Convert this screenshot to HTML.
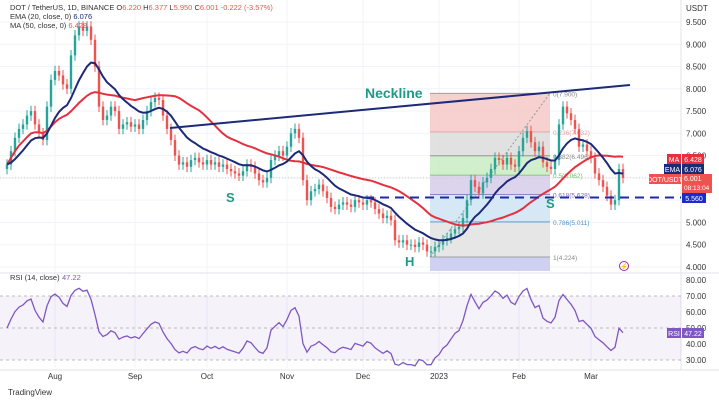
<!DOCTYPE html>
<html><head><meta charset="utf-8">
<style>
body{margin:0;background:#fff;font-family:"Liberation Sans",sans-serif;}
svg{display:block}
</style></head>
<body>
<svg id="c" width="719" height="400" viewBox="0 0 719 400" font-family="Liberation Sans, sans-serif"></svg>
<script>
const closes=[6.3,6.6,6.9,7.1,7.2,7.4,7.5,7.2,7.0,6.85,7.6,8.2,8.4,8.3,8.1,8.0,8.75,9.2,9.4,9.3,9.4,9.1,8.5,7.6,7.3,7.4,7.6,7.5,7.1,7.2,7.25,7.15,7.2,7.1,7.3,7.5,7.7,7.8,7.75,7.4,7.1,6.85,6.5,6.3,6.35,6.25,6.4,6.45,6.35,6.3,6.4,6.3,6.35,6.25,6.3,6.2,6.15,6.1,6.05,6.15,6.3,6.25,6.1,5.95,5.9,6.0,6.4,6.5,6.6,6.5,6.7,7.0,7.1,6.9,5.95,5.5,5.7,5.75,5.85,5.7,5.55,5.35,5.3,5.4,5.45,5.4,5.35,5.5,5.45,5.4,5.5,5.45,5.3,5.2,5.1,5.15,5.05,4.6,4.55,4.6,4.5,4.5,4.45,4.55,4.5,4.35,4.35,4.45,4.5,4.6,4.65,4.75,4.85,4.9,5.1,5.5,5.95,5.8,5.65,5.9,6.0,6.2,6.45,6.4,6.3,6.45,6.3,6.25,6.6,6.9,7.05,6.8,6.6,6.7,6.35,6.25,6.2,6.4,7.2,7.6,7.45,7.3,7.1,6.7,6.75,6.6,6.45,6.1,5.95,5.8,5.6,5.4,5.5,6.2,6.0];
const priceTicks=[4,4.5,5,5.5,6,6.5,7,7.5,8,8.5,9,9.5];
const rsiTicks=[30,40,50,60,70,80];
const months=["Aug","Sep","Oct","Nov","Dec","2023","Feb","Mar"];
const monthIdx=[12,32,50,70,89,108,128,146];
const fibLevels=[0,0.236,0.382,0.5,0.618,0.786,1];
const fibPrices=[7.9,7.032,6.496,6.062,5.628,5.011,4.224];
const NS="http://www.w3.org/2000/svg";
const svg=document.getElementById('c');
const px=i=>7+i*4;
const py=p=>267-(p-4)*44.55;
const ry=v=>360-(v-30)*1.6;
function el(t,a,txt,parent){const e=document.createElementNS(NS,t);for(const k in a)e.setAttribute(k,a[k]);if(txt!==undefined)e.textContent=txt;(parent||svg).appendChild(e);return e;}
priceTicks.forEach(p=>{const g=el('line',{x1:0,x2:681,y1:py(p),y2:py(p),stroke:'#f0f3fa'});


const t=el('text',{x:686,y:py(p)+3,'font-size':8,fill:'#333'},p.toFixed(3));

});
monthIdx.forEach((m,k)=>{const g=el('line',{x1:px(m),x2:px(m),y1:0,y2:368,stroke:'#f0f3fa'});


const t=el('text',{x:px(m),y:379,'font-size':8,fill:'#333','text-anchor':'middle'},months[k]);

});
el('text',{x:686,y:11,'font-size':8,fill:'#333'},'USDT');
el('line',{x1:681,x2:681,y1:0,y2:370,stroke:'#e0e3eb'});
el('line',{x1:0,x2:719,y1:273,y2:273,stroke:'#e0e3eb'});
el('line',{x1:0,x2:719,y1:370,y2:370,stroke:'#e0e3eb'});
const fx1=430,fx2=550;
const fibFill=['#f6c8c8','#dcdcdc','#c9ecc4','#d6cdea','#cfe4f5','#e2e2e2'];
for(let k=0;k<6;k++){const r=el('rect',{x:fx1,y:py(fibPrices[k]),width:fx2-fx1,height:py(fibPrices[k+1])-py(fibPrices[k]),fill:fibFill[k],opacity:0.85});

}
const r2=el('rect',{x:fx1,y:py(fibPrices[6]),width:fx2-fx1,height:271-py(fibPrices[6]),fill:'#cfd0f2'});


const fibCol=['#888','#e4a0a0','#888','#6bbf5f','#7e63b8','#4a90c8','#888'];
fibLevels.forEach((l,k)=>{el('line',{x1:fx1,x2:fx2,y1:py(fibPrices[k]),y2:py(fibPrices[k]),stroke:fibCol[k],'stroke-width':0.8});
const t=el('text',{x:553,y:py(fibPrices[k])+3,'font-size':6.5,fill:fibCol[k]},l+'('+fibPrices[k].toFixed(3)+')');

});
el('line',{x1:430,y1:py(4.224),x2:550,y2:py(7.9),stroke:'#999','stroke-dasharray':'2,2'});
el('line',{x1:0,x2:681,y1:py(6.001),y2:py(6.001),stroke:'#ccc','stroke-dasharray':'1,2'});
closes.forEach((c,i)=>{const o=i?closes[i-1]:c-0.1;const up=c>=o;const col=up?'#26a69a':'#ef5350';
const hi=Math.max(o,c)+0.12,lo=Math.min(o,c)-0.12;
const w=el('line',{x1:px(i),x2:px(i),y1:py(hi),y2:py(lo),stroke:col,'stroke-width':1});


const b=el('rect',{x:px(i)-1.2,y:py(Math.max(o,c)),width:2.4,height:Math.max(1,Math.abs(py(o)-py(c))),fill:col});

});
const ema=[];const k=2/(13+1);closes.forEach((c,i)=>ema.push(i?c*k+ema[i-1]*(1-k):c));
const ma=closes.map((c,i)=>{const s=closes.slice(Math.max(0,i-32),i+1);return s.reduce((a,b)=>a+b,0)/s.length;});
function path(arr,col,name){const d=arr.map((v,i)=>(i?'L':'M')+px(i)+','+py(v).toFixed(1)).join('');const p=el('path',{d:d,fill:'none',stroke:col,'stroke-width':2});

}
path(ma,'#e5303f','ma50-line');
path(ema,'#1c2a78','ema20-line');
const nl=el('line',{x1:170,y1:128,x2:630,y2:85,stroke:'#1c2a78','stroke-width':2});


const sl=el('line',{x1:365,y1:py(5.56),x2:681,y2:py(5.56),stroke:'#1c2aa8','stroke-width':2,'stroke-dasharray':'9,6'});


[['Neckline',365,98,14],['S',226,202,13],['S',546,208,13],['H',405,266,13]].forEach(a=>{const t=el('text',{x:a[1],y:a[2],'font-size':a[3],'font-weight':'bold',fill:'#1f9a86'},a[0]);

});
el('circle',{cx:624,cy:266,r:4.5,fill:'none',stroke:'#9c27b0'});
el('text',{x:624,y:269,'font-size':7,fill:'#9c27b0','text-anchor':'middle'},'⚡');
function tag(x,y,w,txt,col){const r=el('rect',{x:x,y:y-5,width:w,height:10,fill:col});


el('text',{x:x+w/2,y:y+3,'font-size':7,fill:'#fff','text-anchor':'middle'},txt);}
tag(667,159,14,'MA','#e5303f');tag(682,159,22,'6.428','#e5303f');
tag(664,169,17,'EMA','#1c2a78');tag(682,169,22,'6.076','#1c2a78');
tag(649,179,32,'DOT/USDT','#ef5350');
el('rect',{x:682,y:174,width:30,height:19,fill:'#ef5350'});
el('text',{x:684,y:181,'font-size':7,fill:'#fff'},'6.001');
el('text',{x:684,y:190,'font-size':6.5,fill:'#fff'},'08:13:04');
tag(682,198,24,'5.560','#1c2ad0');
const lg=el('text',{x:10,y:10,'font-size':7.5,fill:'#333'});
lg.innerHTML='DOT / TetherUS, 1D, BINANCE  <tspan fill="#333">O</tspan><tspan fill="#ef5350">6.220 </tspan>H<tspan fill="#ef5350">6.377 </tspan>L<tspan fill="#ef5350">5.950 </tspan>C<tspan fill="#ef5350">6.001  -0.222 (-3.57%)</tspan>';
const l2=el('text',{x:10,y:19,'font-size':7.5,fill:'#333'});l2.innerHTML='EMA (20, close, 0) <tspan fill="#1c2a78">6.076</tspan>';
const l3=el('text',{x:10,y:28,'font-size':7.5,fill:'#333'});l3.innerHTML='MA (50, close, 0) <tspan fill="#ef5350">6.428</tspan>';
el('rect',{x:0,y:ry(70),width:681,height:ry(30)-ry(70),fill:'#7e57c2',opacity:0.08});
[70,50,30].forEach(v=>el('line',{x1:0,x2:681,y1:ry(v),y2:ry(v),stroke:'#aaa','stroke-dasharray':'3,3','stroke-width':0.7}));
rsiTicks.forEach(v=>{const t=el('text',{x:686,y:ry(v)+3,'font-size':8,fill:'#333'},v.toFixed(2));

});
const rsi=[];let ag=0.08,al=0.08;const N=16;
closes.forEach((c,i)=>{if(!i){rsi.push(50);return;}const d=c-closes[i-1];const g=Math.max(d,0),l=Math.max(-d,0);
ag=(ag*(N-1)+g)/N;al=(al*(N-1)+l)/N;
let v=100-100/(1+ag/al);v=Math.max(20,Math.min(85,v));rsi.push(v);});
const rp=el('path',{d:rsi.map((v,i)=>(i?'L':'M')+px(i)+','+ry(v).toFixed(1)).join(''),fill:'none',stroke:'#7e57c2','stroke-width':1.3});


el('text',{x:10,y:280,'font-size':7.5,fill:'#333'},'RSI (14, close)');
el('text',{x:62,y:280,'font-size':7.5,fill:'#7e57c2'},'47.22');
tag(667,333,14,'RSI','#7e57c2');tag(682,333,22,'47.22','#7e57c2');
const tv=el('text',{x:8,y:395,'font-size':8,fill:'#333'},'TradingView');
</script>
</body></html>
